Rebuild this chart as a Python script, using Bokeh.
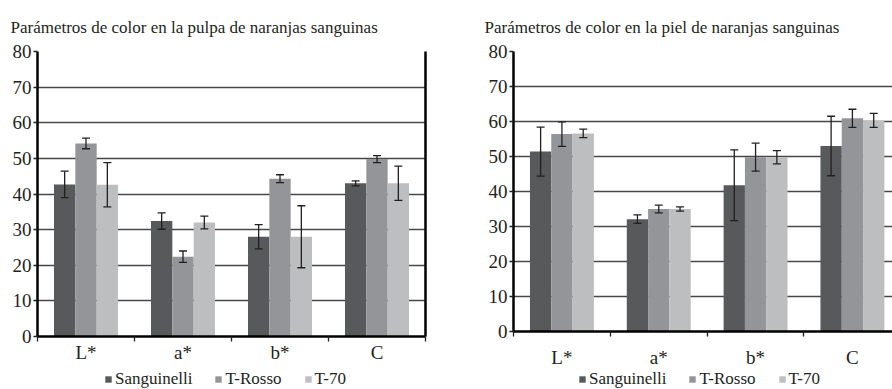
from bokeh.plotting import figure
from bokeh.models import (ColumnDataSource, Whisker, TeeHead, Legend, LegendItem,
                          FixedTicker, LinearAxis, Range1d)
from bokeh.layouts import row, column
from bokeh.embed import file_html
from bokeh.resources import INLINE

categories = ["L*", "a*", "b*", "C"]
series = ["Sanguinelli", "T-Rosso", "T-70"]

pulp_sanguinelli = [42.7, 32.4, 28.0, 43.0]
pulp_sanguinelli_err = [3.7, 2.3, 3.4, 0.7]
pulp_trosso = [54.2, 22.4, 44.3, 49.8]
pulp_trosso_err = [1.5, 1.6, 1.1, 1.0]
pulp_t70 = [42.6, 32.0, 28.0, 43.0]
pulp_t70_err = [6.2, 1.8, 8.7, 4.8]

skin_sanguinelli = [51.4, 32.1, 41.8, 53.0]
skin_sanguinelli_err = [7.0, 1.2, 10.1, 8.5]
skin_trosso = [56.4, 35.0, 49.8, 60.9]
skin_trosso_err = [3.5, 1.1, 4.0, 2.6]
skin_t70 = [56.6, 35.0, 49.8, 60.3]
skin_t70_err = [1.2, 0.6, 1.9, 2.0]

y_ticks = [0, 10, 20, 30, 40, 50, 60, 70, 80]
colors = ["#58595b", "#939598", "#bdbec0"]

FONT = "Liberation Serif"
INK = "#231f20"
BAR_W = 0.22
NAN = float("nan")


def make_panel(title, values, errs, x_end, width, height, mb_left, mb_right, mb_bottom,
               right_border, x_standoff, title_offset):
    p = figure(width=width, height=height, output_backend="svg", toolbar_location=None,
               x_range=Range1d(0, x_end), y_range=Range1d(0, 80),
               min_border_left=mb_left, min_border_right=mb_right,
               min_border_top=50, min_border_bottom=mb_bottom)
    p.title.text = title
    p.title.text_font = FONT
    p.title.text_font_size = "17px"
    p.title.text_font_style = "normal"
    p.title.text_color = INK
    p.title.align = "left"
    p.title.offset = title_offset
    p.title.standoff = 30
    p.outline_line_color = None

    centers = [i + 0.5 for i in range(len(categories))]
    offsets = [-BAR_W, 0.0, BAR_W]
    for k, (vals, er) in enumerate(zip(values, errs)):
        xs = [c + offsets[k] for c in centers]
        src = ColumnDataSource(dict(x=xs, top=vals,
                                    upper=[v + e for v, e in zip(vals, er)],
                                    lower=[v - e for v, e in zip(vals, er)]))
        p.vbar(x="x", top="top", bottom=0, width=BAR_W, source=src,
               fill_color=colors[k], line_color=None)
        w = Whisker(base="x", upper="upper", lower="lower", source=src,
                    line_color=INK, line_width=1.3, level="overlay",
                    upper_head=TeeHead(size=8, line_color=INK, line_width=1.3),
                    lower_head=TeeHead(size=8, line_color=INK, line_width=1.3))
        p.add_layout(w)

    ya = p.yaxis[0]
    ya.ticker = FixedTicker(ticks=y_ticks)
    ya.axis_line_width = 2.5
    ya.axis_line_color = "black"
    ya.major_tick_out = 4
    ya.major_tick_in = 0
    ya.major_tick_line_color = INK
    ya.major_tick_line_width = 1.3
    ya.minor_tick_line_color = None
    ya.major_label_standoff = 2
    ya.major_label_text_font = FONT
    ya.major_label_text_font_size = "19px"
    ya.major_label_text_color = INK

    xa = p.xaxis[0]
    xa.ticker = FixedTicker(ticks=centers, minor_ticks=[0, 1, 2, 3, 4])
    xa.major_label_overrides = {c: lab for c, lab in zip(centers, categories)}
    xa.major_tick_line_color = None
    xa.major_tick_out = 0
    xa.major_tick_in = 0
    xa.minor_tick_out = 5
    xa.minor_tick_in = 0
    xa.minor_tick_line_color = INK
    xa.minor_tick_line_width = 1.3
    xa.axis_line_width = 2.5
    xa.axis_line_color = "black"
    xa.major_label_standoff = x_standoff
    xa.major_label_text_font = FONT
    xa.major_label_text_font_size = "19px"
    xa.major_label_text_color = INK

    p.xgrid.visible = False
    p.ygrid.grid_line_color = "#474747"
    p.ygrid.grid_line_width = 1.3

    if right_border:
        ra = LinearAxis(ticker=FixedTicker(ticks=[0]),
                        axis_line_width=2.5, axis_line_color="black",
                        major_tick_out=0, major_tick_in=0,
                        major_tick_line_color=None, minor_tick_line_color=None,
                        major_label_standoff=0, major_label_text_font_size="1px",
                        major_label_text_color=None)
        p.add_layout(ra, "right")
    return p


def make_legend(width, height, loc):
    q = figure(width=width, height=height, output_backend="svg", toolbar_location=None,
               x_axis_type=None, y_axis_type=None, min_border=0,
               x_range=Range1d(0, 1), y_range=Range1d(0, 1))
    q.outline_line_color = None
    # legend proxies: NaN data, nothing is drawn in the frame
    rs = [q.vbar(x=[NAN], top=[NAN], width=0.1, fill_color=c, line_color=None) for c in colors]
    legend = Legend(items=[LegendItem(label=s, renderers=[r]) for s, r in zip(series, rs)],
                    orientation="horizontal", location=loc,
                    glyph_width=8, glyph_height=8, label_standoff=3, spacing=22,
                    label_height=17, label_width=10, padding=0, margin=0,
                    border_line_color=None, background_fill_alpha=0,
                    label_text_font=FONT, label_text_font_size="17px",
                    label_text_color=INK)
    q.add_layout(legend, "center")
    return q


p1 = make_panel("Parámetros de color en la pulpa de naranjas sanguinas",
                [pulp_sanguinelli, pulp_trosso, pulp_t70],
                [pulp_sanguinelli_err, pulp_trosso_err, pulp_t70_err],
                4.0, 446, 366, 37, 21, 30, True, 0, -27)
p2 = make_panel("Parámetros de color en la piel de naranjas sanguinas",
                [skin_sanguinelli, skin_trosso, skin_t70],
                [skin_sanguinelli_err, skin_trosso_err, skin_t70_err],
                3.914, 446, 370, 67, 0, 32, False, 10, -29)
l1 = make_legend(446, 23, (67, 0))
l2 = make_legend(446, 19, (65, 0))

layout = row(column(p1, l1), column(p2, l2))
open("out.html", "w").write(file_html(layout, INLINE))
